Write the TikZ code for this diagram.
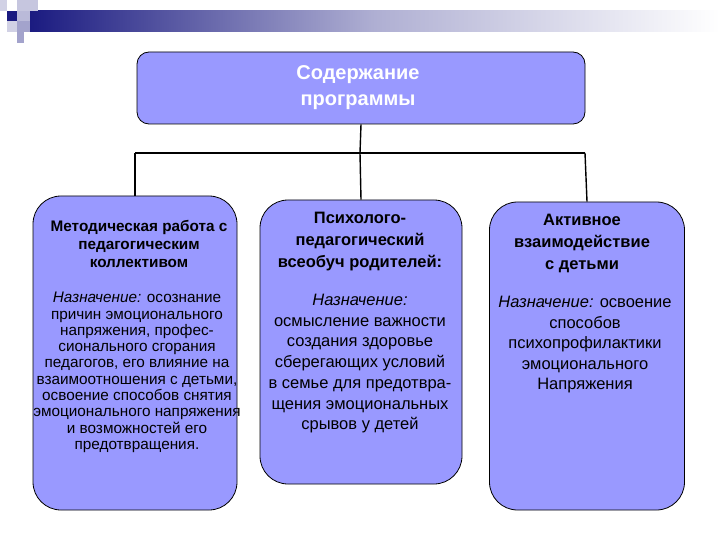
\documentclass[tikz,border=0pt]{standalone}
\usepackage{fontspec}
\setmainfont{Liberation Sans}
\begin{document}
\begin{tikzpicture}[x=1pt,y=-1pt,
  box/.style={draw=black,fill=boxfill,rounded corners=28pt,line width=0.8pt},
  txt/.style={anchor=north,align=center,font=\fontsize{15}{17}\selectfont,inner sep=0pt},
  ln/.style={line width=1.4pt}]
\definecolor{boxfill}{HTML}{9999FF}
\definecolor{navy}{HTML}{1A1A80}
\useasboundingbox (0,0) rectangle (720,540);
% decoration
\shade[left color=navy,right color=white,middle color=navy!35] (28,11) rectangle (720,32);
\fill[navy] (7,11) rectangle (17,21);
\fill[navy!20] (0,0) rectangle (7,11);
\fill[navy!25] (17,0) rectangle (38,11);
\fill[navy!30] (17,11) rectangle (30,21);
\fill[navy!20] (7,21) rectangle (17,32);
\fill[navy!40] (17,21) rectangle (30,32);
\fill[navy!40] (17,32) rectangle (24,43);
% boxes
\node[box,minimum width=448pt,minimum height=72pt,rounded corners=12pt] (top) at (361,88) {};
\node[txt,text=white,font=\bfseries\fontsize{20}{26}\selectfont] (toptxt) at (358,65) {Содержание\\ программы};
\node[box,minimum width=204pt,minimum height=314pt] (L) at (135,353) {};
\node[box,minimum width=202pt,minimum height=284pt] (M) at (361,342) {};
\node[box,minimum width=195pt,minimum height=308pt] (R) at (587,356) {};
% connectors
\coordinate (j) at (360,153);
\coordinate (jl) at (135,153);
\coordinate (jr) at (585,153);
\draw[ln] (top.south) -- (j);
\draw[ln] (jl) -- (jr);
\draw[ln] (jl) -- (L.north);
\draw[ln] (j) -- (M.north);
\draw[ln] (jr) -- (R.north);
% texts
\node[txt,font=\fontsize{15.3}{18}\selectfont] (Lh) at (139,220) {\bfseries Методическая работа с\\ \bfseries педагогическим\\ \bfseries коллективом};
\node[txt,font=\fontsize{15.3}{16.3}\selectfont] (Lt) at (137,292) {\textit{Назначение:} осознание\\ причин эмоционального\\ напряжения, профес-\\ сионального сгорания\\ педагогов, его влияние на\\ взаимоотношения с детьми,\\ освоение способов снятия\\ эмоционального напряжения\\ и возможностей его\\ предотвращения.};
\node[txt,font=\fontsize{16.5}{22}\selectfont] (Mt) at (360,212) {\bfseries Психолого-\\ \bfseries педагогический\\ \bfseries всеобуч родителей:};
\node[txt,font=\fontsize{16.5}{20.7}\selectfont] (Mb) at (360,294) {\textit{Назначение:}\\ осмысление важности\\ создания здоровье\\ сберегающих условий\\ в семье для предотвра-\\ щения эмоциональных\\ срывов у детей};
\node[txt,font=\fontsize{16.5}{22}\selectfont] (Rt) at (582,214) {\bfseries Активное\\ \bfseries взаимодействие\\ \bfseries с детьми};
\node[txt,font=\fontsize{16.5}{20.5}\selectfont] (Rb) at (585,296) {\textit{Назначение:} освоение\\ способов\\ психопрофилактики\\ эмоционального\\ Напряжения};
\end{tikzpicture}
\end{document}
